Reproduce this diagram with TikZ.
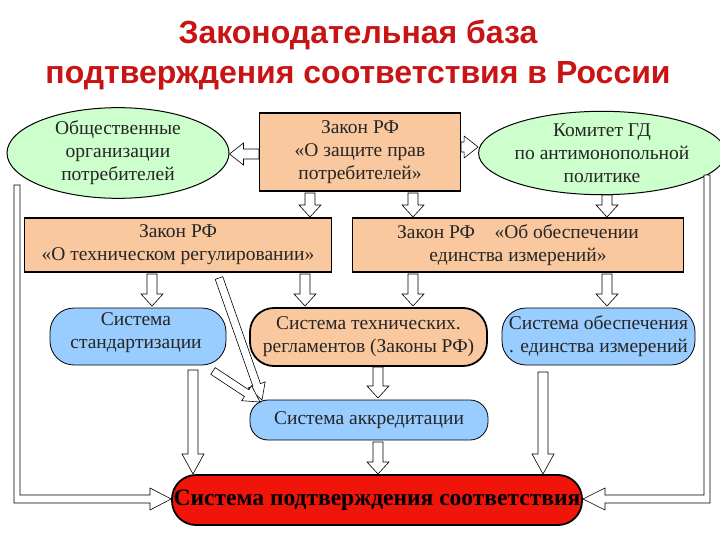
\documentclass[tikz,border=0pt]{standalone}
\usepackage{fontspec}
\setmainfont{Liberation Serif}
\newfontfamily\titlefont{Liberation Sans}
\usetikzlibrary{calc,shapes.geometric}
\definecolor{ttl}{RGB}{200,20,20}
\definecolor{gr}{RGB}{204,255,204}
\definecolor{orb}{RGB}{250,200,158}
\definecolor{blb}{RGB}{153,204,255}
\definecolor{rd}{RGB}{240,20,10}
\newcommand\barr[5]{\draw[fill=white,line width=0.6pt] let \p1=($(#2)-(#1)$), \n1={atan2(\y1,\x1)}, \n2={veclen(\x1,\y1)} in [shift={(#1)}, rotate=\n1] (0,-#3) -- (\n2-#5,-#3) -- (\n2-#5,-#4) -- (\n2,0) -- (\n2-#5,#4) -- (\n2-#5,#3) -- (0,#3) -- cycle;}
\begin{document}
\begin{tikzpicture}[x=1pt,y=-1pt,
  txt/.style={font=\fontsize{19.5}{23}\selectfont, align=center, text=black!85},
  ell/.style={txt, ellipse, draw, line width=1pt, fill=gr, minimum width=222pt, minimum height=80pt, inner sep=0pt},
  box/.style={txt, rectangle, draw, line width=1.2pt, fill=orb, inner sep=0pt},
  rnd/.style={txt, rectangle, rounded corners=24pt, draw, line width=0.8pt, fill=blb, inner sep=0pt}]
\useasboundingbox (0,0) rectangle (720,540);
\fill[white] (0,0) rectangle (720,540);
\node (t1) at (358,35) {\titlefont\bfseries\fontsize{32}{34}\selectfont\color{ttl}Законодательная база};
\node (t2) at (358,76) {\titlefont\bfseries\fontsize{32}{34}\selectfont\color{ttl}подтверждения соответствия в России};
\node[ell] (og) at (118,153) {Общественные\\организации\\потребителей};
\node[box, minimum width=201pt, minimum height=78pt] (zp) at (360,152) {Закон РФ\\«О защите прав\\потребителей»};
\node[ell] (kg) at (602,153) {Комитет ГД\\по антимонопольной\\политике};
\node[box, minimum width=307pt, minimum height=54pt] (tr) at (178,245) {Закон РФ\\«О техническом регулировании»};
\node[box, minimum width=331pt, minimum height=54pt] (ei) at (518,245) {Закон РФ\quad«Об обеспечении\\единства измерений»};
\node[rnd, minimum width=176pt, minimum height=57pt] (ss) at (138,336.5) {};
\node[txt] (sst) at (136,333) {Система\\стандартизации};
\node[rnd, fill=orb, line width=1.8pt, minimum width=237pt, minimum height=58pt] (st) at (368.5,337) {Система технических.\\регламентов (Законы РФ)};
\node[rnd, minimum width=193pt, minimum height=57pt] (se) at (598.5,336.5) {Система обеспечения\\. единства измерений};
\node[rnd, rounded corners=18pt, minimum width=238pt, minimum height=40pt] (sa) at (369,420) {Система аккредитации};
\node[rectangle, rounded corners=24pt, draw, line width=1.8pt, fill=rd, minimum width=410pt, minimum height=50pt, inner sep=0pt, font=\bfseries\fontsize{23.5}{26}\selectfont] (sp) at (377,500) {Система подтверждения соответствия};
% arrows
\barr{zp.west |- 0,154}{og.east |- 0,154}{5}{11}{14}
\barr{zp.east |- 0,147}{kg.west |- 0,147}{5}{11}{14}
\coordinate (a1) at (310,193); \coordinate (b1) at (310,217); \barr{a1}{b1}{5}{11}{12}
\coordinate (a2) at (413,193); \coordinate (b2) at (413,217); \barr{a2}{b2}{5}{11}{12}
\coordinate (a3) at (607,195); \coordinate (b3) at (607,217); \barr{a3}{b3}{5}{11}{12}
\coordinate (a4) at (152,274); \coordinate (b4) at (152,306); \barr{a4}{b4}{5}{11}{12}
\coordinate (a5) at (305,274); \coordinate (b5) at (305,306); \barr{a5}{b5}{5}{11}{12}
\coordinate (a6) at (413,274); \coordinate (b6) at (413,306); \barr{a6}{b6}{5}{11}{12}
\coordinate (a7) at (607,274); \coordinate (b7) at (607,306); \barr{a7}{b7}{5}{11}{12}
\coordinate (a8) at (219,278); \coordinate (b8) at (262,400); \barr{a8}{b8}{4}{9}{16}
\coordinate (a9) at (213,371); \coordinate (b9) at (260,402); \barr{a9}{b9}{4}{9}{16}
\coordinate (a10) at (378,367); \coordinate (b10) at (378,398); \barr{a10}{b10}{5}{11}{12}
\coordinate (a11) at (378,442); \coordinate (b11) at (378,474); \barr{a11}{b11}{5}{11}{12}
\coordinate (a12) at (193,370); \coordinate (b12) at (193,474); \barr{a12}{b12}{5}{11}{20}
\coordinate (a13) at (543,372); \coordinate (b13) at (543,474); \barr{a13}{b13}{5}{11}{20}
% outer feedback lines
\draw[fill=white, line width=0.6pt] (14,185) -- (14,503) -- (150,503) -- (150,510) -- (sp.west |- 0,499) -- (150,488) -- (150,495) -- (20,495) -- (20,185) -- cycle;
\draw[fill=white, line width=0.6pt] (710,175) -- (710,503) -- (605,503) -- (605,510) -- (sp.east |- 0,499) -- (605,488) -- (605,495) -- (704,495) -- (704,175) -- cycle;
\end{tikzpicture}
\end{document}
